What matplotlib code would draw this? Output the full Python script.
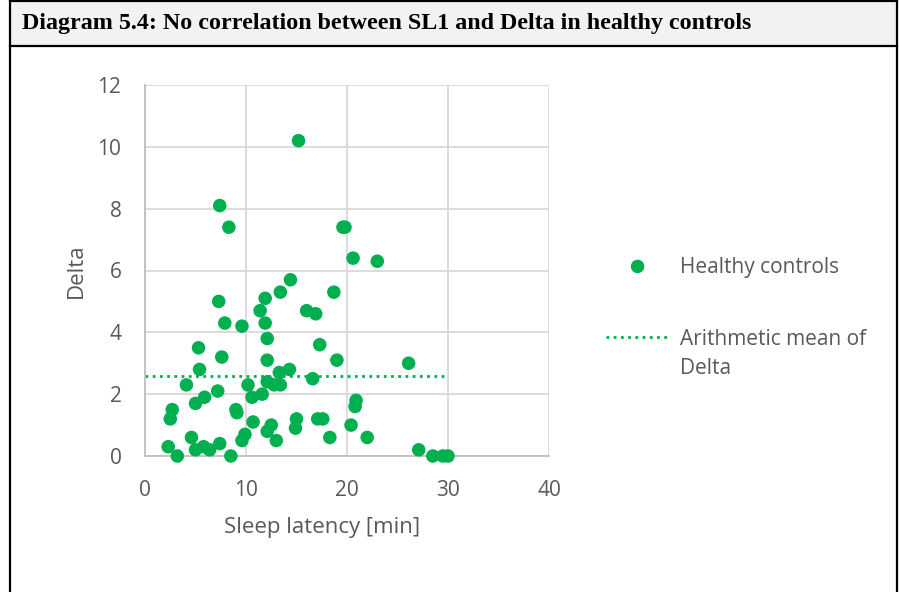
import matplotlib
matplotlib.use("Agg")
import matplotlib.pyplot as plt
from matplotlib.lines import Line2D
from matplotlib.patches import Rectangle
from matplotlib.offsetbox import HPacker

# Data
sleep_latency = [15.2, 7.4, 8.3, 19.6, 19.8, 20.6, 23.0, 14.4, 13.4, 18.7,
                 7.3, 11.9, 11.4, 16.0, 16.9, 7.9, 11.9, 9.6, 12.1, 17.3,
                 5.3, 7.6, 19.0, 12.1, 26.1, 14.3, 5.4, 13.3, 16.6, 12.1,
                 12.8, 13.4, 4.1, 10.2, 7.2, 5.9, 5.0, 10.6, 11.6, 9.0,
                 9.1, 20.9, 20.8, 2.7, 2.5, 15.0, 17.1, 17.6, 10.7, 12.5,
                 20.4, 14.9, 12.1, 9.9, 9.6, 18.3, 22.0, 4.6, 13.0, 2.3,
                 5.8, 5.0, 6.4, 7.4, 3.2, 8.5, 27.1, 28.5, 29.5, 30.0]
delta = [10.2, 8.1, 7.4, 7.4, 7.4, 6.4, 6.3, 5.7, 5.3, 5.3,
         5.0, 5.1, 4.7, 4.7, 4.6, 4.3, 4.3, 4.2, 3.8, 3.6,
         3.5, 3.2, 3.1, 3.1, 3.0, 2.8, 2.8, 2.7, 2.5, 2.4,
         2.3, 2.3, 2.3, 2.3, 2.1, 1.9, 1.7, 1.9, 2.0, 1.5,
         1.4, 1.8, 1.6, 1.5, 1.2, 1.2, 1.2, 1.2, 1.1, 1.0,
         1.0, 0.9, 0.8, 0.7, 0.5, 0.6, 0.6, 0.6, 0.5, 0.3,
         0.3, 0.2, 0.2, 0.4, 0.0, 0.0, 0.2, 0.0, 0.0, 0.0]
mean_x = [0, 29.7]
mean_delta = [2.6, 2.6]
x_ticks = [0, 10, 20, 30, 40]
y_ticks = [0, 2, 4, 6, 8, 10, 12]

GREEN = "#00b050"
GRAY_TXT = "#595959"
GRID = "#d9d9d9"
FONT = ["Open Sans", "DejaVu Sans"]

W, H = 899, 592
fig = plt.figure(figsize=(W / 100, H / 100), dpi=100)

# Title bar and frame
fig.patches.append(Rectangle((10 / W, 1 - 46 / H), (897 - 10) / W, 45 / H,
                             transform=fig.transFigure, facecolor="#f2f2f2",
                             edgecolor="none", zorder=0))
for (x0, y0, x1, y1) in [(10, 1, 897, 1), (10, 46, 897, 46),
                         (10, 1, 10, 592), (897, 1, 897, 592)]:
    fig.add_artist(Line2D([x0 / W, x1 / W], [1 - y0 / H, 1 - y1 / H],
                          transform=fig.transFigure, color="black", lw=1.6))
fig.text(22 / W, 1 - 23 / H,
         "Diagram 5.4: No correlation between SL1 and Delta in healthy controls",
         family=["Liberation Serif", "DejaVu Serif"], weight="bold",
         fontsize=17.3, va="center", ha="left", color="black")

ax = fig.add_axes([145 / W, 1 - 456 / H, (549 - 145) / W, (456 - 85) / H])
ax.set_xlim(0, 40)
ax.set_ylim(0, 12)
ax.set_xticks(x_ticks)
ax.set_yticks(y_ticks)
ax.grid(True, color=GRID, lw=1.3)
ax.set_axisbelow(True)
for s in ["top", "right"]:
    ax.spines[s].set_visible(False)
for s in ["left", "bottom"]:
    ax.spines[s].set_color("#bfbfbf")
    ax.spines[s].set_linewidth(1.3)
ax.tick_params(axis="y", length=0, pad=17, labelsize=15, labelcolor=GRAY_TXT)
ax.tick_params(axis="x", length=0, pad=17.5, labelsize=15, labelcolor=GRAY_TXT)
for lab in ax.get_xticklabels() + ax.get_yticklabels():
    lab.set_family(FONT)

ax.scatter(sleep_latency, delta, s=95, color=GREEN, edgecolors="none",
           zorder=3, clip_on=False, label="Healthy controls")
ax.plot(mean_x, mean_delta, color=GREEN, lw=2.0, linestyle=(0, (1, 1.6)),
        zorder=2, label="Arithmetic mean of\nDelta")

ax.set_xlabel("Sleep latency [min]", family=FONT, fontsize=16,
              color=GRAY_TXT, labelpad=11)
ax.xaxis.label.set_x(0.438)
ax.set_ylabel("Delta", family=FONT, fontsize=16, color=GRAY_TXT, labelpad=7.5)

leg = ax.legend(loc="upper left", bbox_to_anchor=(598 / W, 1 - 249 / H),
                bbox_transform=fig.transFigure, frameon=False,
                prop={"family": FONT, "size": 15}, labelcolor=GRAY_TXT,
                handlelength=3.0, handletextpad=0.55, labelspacing=2.45,
                borderaxespad=0)
for t in leg.get_texts():
    t.set_linespacing(1.45)
for hp in leg.findobj(HPacker):
    hp.align = "top"

fig.savefig("out.png", dpi=100)
